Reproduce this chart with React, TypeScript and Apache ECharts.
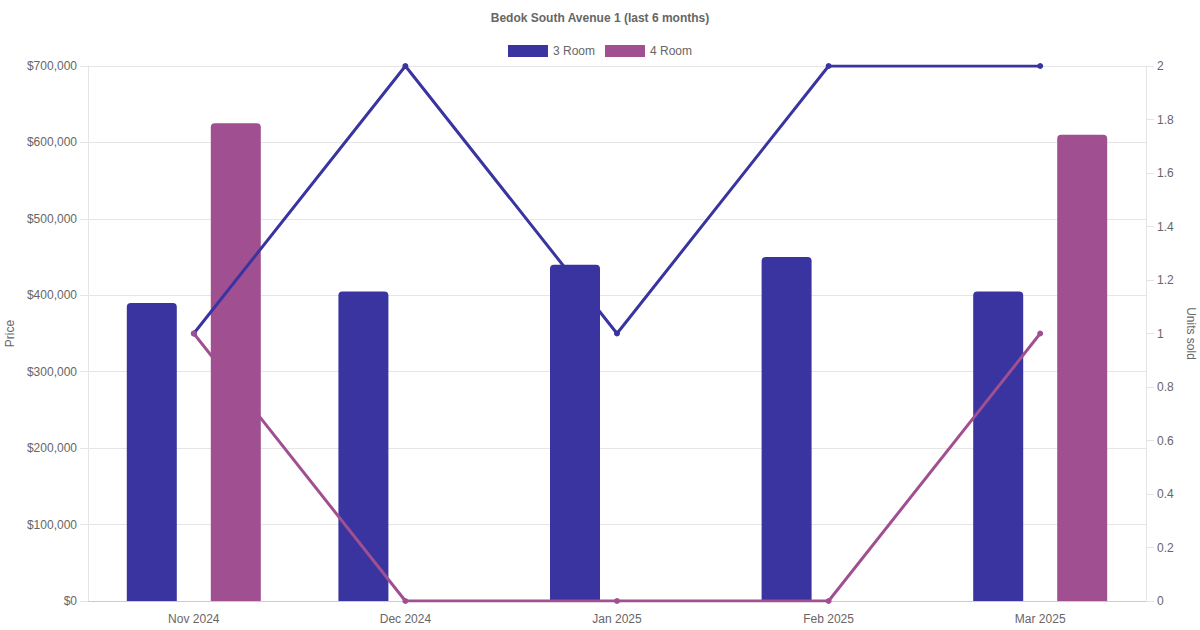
import React, { useEffect, useRef } from "react";
import * as echarts from "echarts";

const categories = ["Nov 2024", "Dec 2024", "Jan 2025", "Feb 2025", "Mar 2025"];
const price3Room: (number | null)[] = [390000, 405000, 440000, 450000, 405000];
const price4Room: (number | null)[] = [625000, null, null, null, 610000];
const units3Room = [1, 2, 1, 2, 2];
const units4Room = [1, 0, 0, 0, 1];

const C3 = "#3934a0";
const C4 = "#a05091";
const FONT = "'Liberation Sans', Arial, sans-serif";
const TXT = "#666666";
const GRID = "#e5e5e5";

export default function App() {
  const ref = useRef<HTMLDivElement>(null);
  useEffect(() => {
    if (!ref.current) return;
    const chart = echarts.init(ref.current, undefined, { renderer: "svg" });
    chart.setOption({
      animation: false,
      textStyle: { fontFamily: FONT },
      title: {
        text: "Bedok South Avenue 1 (last 6 months)",
        left: "center",
        top: 7,
        textStyle: { fontSize: 12, fontWeight: "bold", color: TXT, fontFamily: FONT },
      },
      legend: {
        top: 40,
        left: "center",
        itemWidth: 40,
        itemHeight: 12,
        itemGap: 10,
        icon: "rect",
        textStyle: { fontSize: 12, color: TXT, fontFamily: FONT },
        data: [
          { name: "3 Room", itemStyle: { color: C3 } },
          { name: "4 Room", itemStyle: { color: C4 } },
        ],
      },
      grid: { left: 88, right: 54, top: 66, bottom: 29, containLabel: false, outerBoundsMode: "none" },
      xAxis: {
        type: "category",
        data: categories,
        boundaryGap: true,
        axisTick: { show: false },
        axisLine: { show: true, lineStyle: { color: "#cccccc", width: 1 } },
        axisLabel: { color: TXT, fontSize: 12, margin: 12, fontFamily: FONT },
        splitLine: { show: false },
      },
      yAxis: [
        {
          type: "value",
          min: 0,
          max: 700000,
          interval: 100000,
          name: "Price",
          nameLocation: "middle",
          nameGap: 72,
          nameRotate: 90,
          nameTextStyle: { color: TXT, fontSize: 12, fontFamily: FONT },
          axisLine: { show: true, lineStyle: { color: GRID } },
          axisTick: { show: true, length: 8, lineStyle: { color: GRID } },
          axisLabel: {
            color: TXT,
            fontSize: 12,
            margin: 11,
            fontFamily: FONT,
            formatter: (v: number) => "$" + v.toLocaleString("en-US"),
          },
          splitLine: { show: true, lineStyle: { color: GRID } },
        },
        {
          type: "value",
          min: 0,
          max: 2,
          interval: 0.2,
          position: "right",
          name: "Units sold",
          nameLocation: "middle",
          nameGap: 34,
          nameRotate: -90,
          nameTextStyle: { color: TXT, fontSize: 12, fontFamily: FONT },
          axisLine: { show: true, lineStyle: { color: GRID } },
          axisTick: { show: true, length: 8, lineStyle: { color: GRID } },
          axisLabel: {
            color: TXT,
            fontSize: 12,
            margin: 11,
            fontFamily: FONT,
            formatter: (v: number) => String(Math.round(v * 10) / 10),
          },
          splitLine: { show: false },
        },
      ],
      series: [
        {
          name: "3 Room",
          type: "bar",
          yAxisIndex: 0,
          data: price3Room,
          barWidth: 50,
          barGap: "68%",
          itemStyle: { color: C3, borderRadius: [4, 4, 0, 0] },
          z: 1,
        },
        {
          name: "4 Room",
          type: "bar",
          yAxisIndex: 0,
          data: price4Room,
          barWidth: 50,
          barGap: "68%",
          itemStyle: { color: C4, borderRadius: [4, 4, 0, 0] },
          z: 1,
        },
        {
          name: "3 Room",
          type: "line",
          yAxisIndex: 1,
          data: units3Room,
          symbol: "circle",
          symbolSize: 6,
          lineStyle: { color: C3, width: 3 },
          itemStyle: { color: C3 },
          z: 3,
        },
        {
          name: "4 Room",
          type: "line",
          yAxisIndex: 1,
          data: units4Room,
          symbol: "circle",
          symbolSize: 6,
          lineStyle: { color: C4, width: 3 },
          itemStyle: { color: C4 },
          z: 3,
        },
      ],
    });
    return () => chart.dispose();
  }, []);
  return <div ref={ref} style={{ width: 1200, height: 630, position: "absolute", left: 0, top: 0 }} />;
}
